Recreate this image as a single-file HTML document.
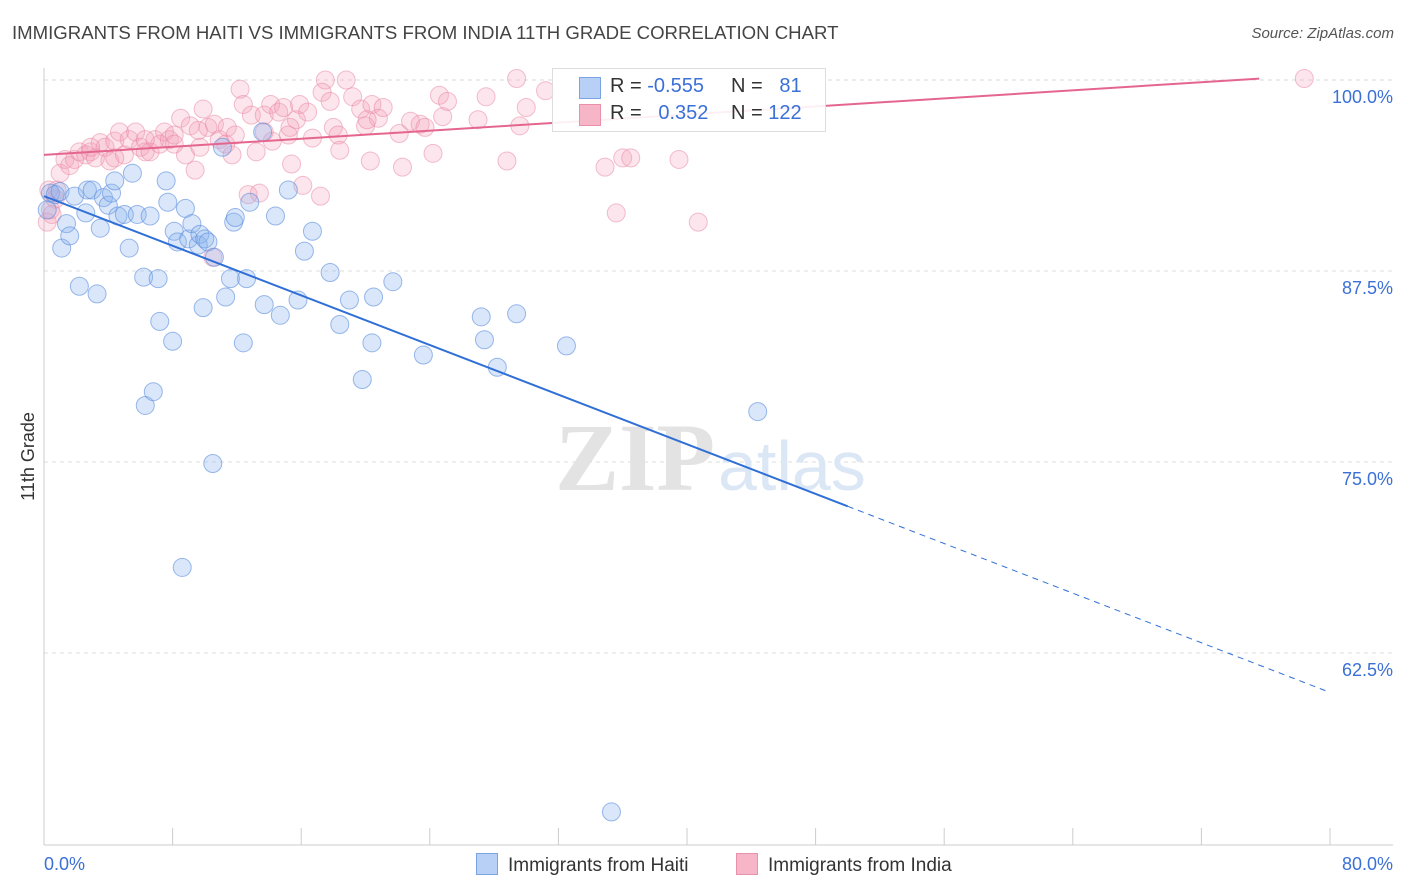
<!DOCTYPE html>
<html><head><meta charset="utf-8">
<style>
body{margin:0;background:#fff;font-family:"Liberation Sans",sans-serif;}
#wrap{position:relative;width:1406px;height:892px;overflow:hidden;}
.t{position:absolute;white-space:nowrap;}
</style></head>
<body>
<div id="wrap">
<div class="t" style="left:12px;top:22px;font-size:18.6px;color:#444;">IMMIGRANTS FROM HAITI VS IMMIGRANTS FROM INDIA 11TH GRADE CORRELATION CHART</div>
<div class="t" style="right:12px;top:25px;font-size:15px;color:#555;font-style:italic;">Source: ZipAtlas.com</div>
<div class="t" style="left:-16px;top:446px;font-size:18px;color:#333;transform:rotate(-90deg);">11th Grade</div>
<svg id="plot" width="1406" height="892" style="position:absolute;left:0;top:0"></svg>
<div class="t" style="left:552px;top:68px;width:272px;height:62px;border:1px solid #ddd;background:rgba(255,255,255,0.9);font-size:20px;">
 <div style="position:absolute;left:26px;top:8px;width:20px;height:20px;background:#b8d0f5;border:1px solid #7aa3e3;"></div>
 <div class="t" style="left:57px;top:6px;color:#333;">R = <span style="color:#3b70d6">-0.555</span></div>
 <div class="t" style="left:178px;top:6px;color:#333;">N = &nbsp; <span style="color:#3b70d6">81</span></div>
 <div style="position:absolute;left:26px;top:35px;width:20px;height:20px;background:#f7b6c8;border:1px solid #e990ab;"></div>
 <div class="t" style="left:57px;top:33px;color:#333;">R = &nbsp; <span style="color:#3b70d6">0.352</span></div>
 <div class="t" style="left:178px;top:33px;color:#333;">N = <span style="color:#3b70d6">122</span></div>
</div>
<div class="t" style="left:476px;top:853px;font-size:19px;color:#333;"><span style="display:inline-block;width:20px;height:20px;background:#b8d0f5;border:1px solid #7aa3e3;vertical-align:-4px;margin-right:10px;"></span>Immigrants from Haiti</div>
<div class="t" style="left:736px;top:853px;font-size:19px;color:#333;"><span style="display:inline-block;width:20px;height:20px;background:#f7b6c8;border:1px solid #e990ab;vertical-align:-4px;margin-right:10px;"></span>Immigrants from India</div>
</div>
<script>
const yTicks=[100,87.5,75,62.5];
const yTickLabels=["100.0%","87.5%","75.0%","62.5%"];
const xTickLabels=["0.0%","80.0%"];
const haitiX=[0.4,0.7,1.0,0.2,1.1,1.4,1.6,1.9,2.2,2.6,2.7,3.0,3.3,3.5,3.7,4.0,4.2,4.4,4.6,5.0,5.3,5.5,5.8,6.2,6.3,6.6,6.8,7.1,7.2,7.6,7.7,8.0,8.1,8.3,8.6,8.8,9.0,9.2,9.6,9.7,9.9,10.0,10.2,10.5,10.6,11.1,11.3,11.6,11.8,11.9,12.4,12.6,12.8,13.6,13.7,14.4,14.7,15.2,15.8,16.2,16.7,17.8,18.4,19.0,19.8,20.4,20.5,21.7,23.6,27.2,27.4,28.2,29.4,32.5,35.3,44.4];
const haitiY=[92.6,92.5,92.7,91.5,89.0,90.6,89.8,92.4,86.5,91.3,92.8,92.8,86.0,90.3,92.3,91.8,92.6,93.4,91.1,91.2,89.0,93.9,91.2,87.1,78.7,91.1,79.6,87.0,84.2,93.4,92.0,82.9,90.1,89.4,68.1,91.6,89.6,90.6,89.2,89.9,85.1,89.6,89.4,74.9,88.4,95.6,85.8,87.0,90.7,91.0,82.8,87.0,92.0,96.6,85.3,91.1,84.6,92.8,85.6,88.8,90.1,87.4,84.0,85.6,80.4,82.8,85.8,86.8,82.0,84.5,83.0,81.2,84.7,82.6,52.1,78.3];
const indiaX=[0.2,0.4,0.7,0.8,1.0,1.3,1.6,1.9,2.2,2.6,2.9,3.2,3.5,3.8,4.1,4.4,4.7,5.0,5.3,5.7,6.0,6.3,6.6,6.9,7.2,7.5,7.8,8.1,8.5,8.8,9.1,9.4,9.7,9.9,10.2,10.5,10.6,10.9,11.3,11.4,11.7,11.9,12.2,12.4,12.7,12.9,13.2,13.4,13.7,14.1,14.2,14.6,14.9,15.2,15.4,15.7,15.9,16.1,16.4,16.7,17.2,17.5,17.3,17.8,18.0,18.3,18.4,18.8,19.2,19.7,20.0,20.3,20.4,20.8,21.1,22.1,22.3,22.8,23.4,23.7,24.2,24.6,24.8,25.1,27.0,27.5,28.8,29.4,29.6,30.0,31.2,34.9,35.6,36.0,36.5,39.5,40.7,78.4,0.3,0.5,2.9,4.4,6.3,8.1,9.6,13.7,15.3,20.1];
const indiaY=[90.7,91.5,92.2,92.8,93.9,94.8,94.4,94.8,95.3,95.1,95.3,94.9,95.9,95.6,94.7,96.0,96.6,95.1,96.1,96.6,95.6,95.3,95.3,96.1,95.8,96.6,96.1,96.4,97.5,95.1,97.0,94.1,95.6,98.1,96.9,88.4,97.1,96.1,95.8,96.9,95.1,96.4,99.4,98.4,92.5,97.7,95.3,92.6,97.7,98.4,96.0,97.9,98.2,96.4,94.5,97.4,98.4,93.1,97.9,96.2,92.4,100.0,99.2,98.6,96.9,96.4,95.4,100.0,98.9,98.1,97.0,94.7,98.4,97.5,98.2,96.5,94.3,97.3,97.1,96.9,95.2,99.0,97.6,98.6,97.4,98.9,94.7,100.1,97.0,98.2,99.3,94.3,91.3,94.9,94.9,94.8,90.7,100.1,92.8,91.2,95.6,94.9,96.1,95.8,96.7,96.6,96.9,97.4];
const haitiTrend=[92.4,-0.406];
const indiaTrend=[95.1,0.066];
const NS="http://www.w3.org/2000/svg";
const svg=document.getElementById('plot');
const X0=44,X1=1330;
function xs(v){return X0+(v/80)*(X1-X0);}
function ys(v){return 80+(100-v)*15.28;}
function mk(tag,attrs){const e=document.createElementNS(NS,tag);for(const k in attrs)e.setAttribute(k,attrs[k]);svg.appendChild(e);return e;}
yTicks.forEach((t,i)=>{
 const l=mk('line',{x1:X0,x2:1393,y1:ys(t),y2:ys(t),stroke:'#ddd','stroke-dasharray':'4,4'});
 
 
 const tx=mk('text',{x:1393,y:ys(t)+23,'text-anchor':'end','font-size':18,fill:'#3b70d6','font-family':'Liberation Sans, sans-serif'});
 tx.textContent=yTickLabels[i];
 
 
});
const ax=mk('line',{x1:X0,x2:1393,y1:845,y2:845,stroke:'#ccc'});


const ayl=mk('line',{x1:X0,x2:X0,y1:68,y2:845,stroke:'#ccc'});


for(let i=0;i<=10;i++){
 const tk=mk('line',{x1:xs(i*8),x2:xs(i*8),y1:828,y2:845,stroke:'#ccc'});
 
 
}
const xl0=mk('text',{x:44,y:870,'font-size':18,fill:'#3b70d6','font-family':'Liberation Sans, sans-serif'});
xl0.textContent=xTickLabels[0];


const xl1=mk('text',{x:1393,y:870,'text-anchor':'end','font-size':18,fill:'#3b70d6','font-family':'Liberation Sans, sans-serif'});
xl1.textContent=xTickLabels[1];


const wm=mk('text',{x:555,y:490,'font-size':96,fill:'#e3e3e3','font-family':'Liberation Serif, serif','font-weight':'bold'});
wm.textContent='ZIP';


const wm2=mk('text',{x:718,y:490,'font-size':70,fill:'#dce7f6','font-family':'Liberation Sans, sans-serif'});
wm2.textContent='atlas';


indiaX.forEach((x,i)=>{
 const c=mk('circle',{cx:xs(x),cy:ys(indiaY[i]),r:9,fill:'rgba(244,160,185,0.28)',stroke:'rgba(232,130,160,0.5)','stroke-width':1});
 
 
});
haitiX.forEach((x,i)=>{
 const c=mk('circle',{cx:xs(x),cy:ys(haitiY[i]),r:9,fill:'rgba(140,180,240,0.32)',stroke:'rgba(90,140,220,0.6)','stroke-width':1});
 
 
});
const f=(t,x)=>t[0]+t[1]*x;
const bt=mk('line',{x1:xs(0),y1:ys(f(haitiTrend,0)),x2:xs(50),y2:ys(f(haitiTrend,50)),stroke:'#2f6fd6','stroke-width':2});


const bd=mk('line',{x1:xs(50),y1:ys(f(haitiTrend,50)),x2:xs(79.8),y2:ys(f(haitiTrend,79.8)),stroke:'#2f6fd6','stroke-width':1,'stroke-dasharray':'6,5'});


const pt=mk('line',{x1:xs(0),y1:ys(f(indiaTrend,0)),x2:xs(75.6),y2:ys(f(indiaTrend,75.6)),stroke:'#e4668f','stroke-width':2});


</script>
</body></html>
